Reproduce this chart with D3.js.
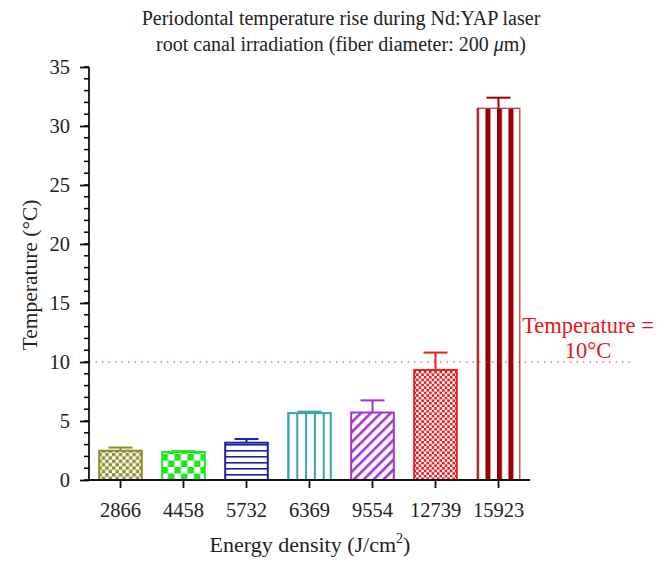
<html>
<script src="https://d3js.org/d3.v7.min.js"></script>
<body style="margin:0;background:#fff">
<script>
var width = 668, height = 570
var font = 'Liberation Serif, Times New Roman, serif'

// data
var energy = ['2866', '4458', '5732', '6369', '9554', '12739', '15923']
var temp = [2.48, 2.37, 3.16, 5.67, 5.72, 9.32, 31.5]
var errTop = [2.75, 2.45, 3.47, 5.79, 6.75, 10.8, 32.4]
var colors = ['#8c8c2a', '#1ee61e', '#1f1fa6', '#3aa3b3', '#a333d1', '#ee1c1c', '#990000']
var patterns = ['checkSmall', 'checkBig', 'hlines', 'vlines', 'diag', 'checkTiny', 'stripes']
var yTicks = [0, 5, 10, 15, 20, 25, 30, 35]
var threshold = 10

var svg = d3.select('body').append('svg').attr('width', width).attr('height', height)
    .style('font-family', font)

var x = d3.scaleBand().domain(energy).range([89, 530]).paddingInner(0.3).paddingOuter(0.15)
var y = d3.scaleLinear().domain([0, 35]).range([480, 67])

var defs = svg.append('defs')

// one pattern per bar, anchored to the bar's left edge
energy.forEach(function(e, i) {
    var c = colors[i], bx = x(e), bw = x.bandwidth(), kind = patterns[i]
    var p = defs.append('pattern').attr('id', 'pat' + i).attr('patternUnits', 'userSpaceOnUse')
    if (kind.indexOf('check') == 0) {
        var s = kind == 'checkBig' ? 6.5 : (kind == 'checkSmall' ? 3.4 : 2.6)
        p.attr('x', bx).attr('y', y(0)).attr('width', s * 2).attr('height', s * 2)
        p.append('rect').attr('width', s * 2).attr('height', s * 2).attr('fill', '#fff')
        p.append('rect').attr('width', s).attr('height', s).attr('fill', c)
        p.append('rect').attr('x', s).attr('y', s).attr('width', s).attr('height', s).attr('fill', c)
    } else if (kind == 'hlines') {
        p.attr('x', bx).attr('y', y(0)).attr('width', 10).attr('height', 6)
        p.append('rect').attr('width', 10).attr('height', 6).attr('fill', '#fff')
        p.append('rect').attr('y', 0).attr('width', 10).attr('height', 1.6).attr('fill', c)
    } else if (kind == 'vlines') {
        var w = bw / 5
        p.attr('x', bx).attr('y', 0).attr('width', w).attr('height', 10)
        p.append('rect').attr('width', w).attr('height', 10).attr('fill', '#fff')
        p.append('rect').attr('x', 0).attr('width', 2).attr('height', 10).attr('fill', c)
    } else if (kind == 'diag') {
        p.attr('width', 7).attr('height', 7).attr('patternTransform', 'rotate(45)')
        p.append('rect').attr('width', 7).attr('height', 7).attr('fill', '#fff')
        p.append('rect').attr('width', 2.6).attr('height', 7).attr('fill', c)
    } else if (kind == 'stripes') {
        var w2 = 11.5
        p.attr('x', bx + 9).attr('y', 0).attr('width', w2).attr('height', 10)
        p.append('rect').attr('width', w2).attr('height', 10).attr('fill', '#fff')
        p.append('rect').attr('x', 0).attr('width', 5).attr('height', 10).attr('fill', c)
    }
})

// bars
svg.selectAll('.bar').data(temp).enter().append('rect').attr('class', 'bar')
    .attr('x', function(d, i) { return x(energy[i]) + 0.75 })
    .attr('width', x.bandwidth() - 1.5)
    .attr('y', function(d) { return y(d) })
    .attr('height', function(d) { return y(0) - y(d) })
    .attr('fill', function(d, i) { return 'url(#pat' + i + ')' })
    .attr('stroke', function(d, i) { return i == 6 ? '#b83030' : colors[i] })
    .attr('stroke-width', function(d, i) { return i == 6 ? 1.2 : 2 })

// error bars
var eb = svg.selectAll('.err').data(errTop).enter().append('g').attr('class', 'err')
    .attr('stroke', function(d, i) { return colors[i] }).attr('stroke-width', 2)
eb.append('line')
    .attr('x1', function(d, i) { return x(energy[i]) + x.bandwidth() / 2 })
    .attr('x2', function(d, i) { return x(energy[i]) + x.bandwidth() / 2 })
    .attr('y1', function(d, i) { return y(temp[i]) })
    .attr('y2', function(d) { return y(d) })
eb.append('line')
    .attr('x1', function(d, i) { return x(energy[i]) + x.bandwidth() / 2 - 12 })
    .attr('x2', function(d, i) { return x(energy[i]) + x.bandwidth() / 2 + 12 })
    .attr('y1', function(d) { return y(d) })
    .attr('y2', function(d) { return y(d) })

// threshold line
svg.append('line').attr('x1', 89).attr('x2', 630).attr('y1', y(threshold)).attr('y2', y(threshold))
    .attr('stroke', '#e83030').attr('stroke-width', 1.2).attr('stroke-dasharray', '1.5,5')
var note = svg.append('text').attr('fill', '#e8151f').attr('font-size', 22.5).attr('text-anchor', 'middle')
note.append('tspan').attr('x', 588).attr('y', 333).text('Temperature =')
note.append('tspan').attr('x', 588).attr('y', 358).text('10\u00b0C')

// y axis
var yAxis = svg.append('g').attr('transform', 'translate(89,0)')
    .call(d3.axisLeft(y).tickValues(yTicks).tickSize(9).tickPadding(10))
yAxis.append('g').selectAll('line').data(d3.range(0, 36)).enter().append('line')
    .attr('x1', -5).attr('x2', 0).attr('y1', function(d) { return y(d) }).attr('y2', function(d) { return y(d) })
    .attr('stroke', '#000').attr('stroke-width', 1.5)
yAxis.select('.domain').attr('d', 'M0,' + y(35) + 'V' + y(0))

// x axis
var xAxis = svg.append('g').attr('transform', 'translate(0,480)')
    .call(d3.axisBottom(x).tickSize(8).tickPadding(14))
xAxis.select('.domain').attr('d', 'M89,0H530')

svg.selectAll('.tick text').attr('font-size', 20.5).attr('font-family', font).attr('fill', '#222')
svg.selectAll('.domain, .tick line').attr('stroke', '#111').attr('stroke-width', 1.8)

// titles
var title = svg.append('text').attr('text-anchor', 'middle').attr('font-size', 20).attr('fill', '#222')
title.append('tspan').attr('x', 341).attr('y', 25).text('Periodontal temperature rise during Nd:YAP laser')
title.append('tspan').attr('x', 341).attr('y', 51).text('root canal irradiation (fiber diameter: 200 ')
title.append('tspan').attr('font-style', 'italic').text('\u03bc')
title.append('tspan').text('m)')

svg.append('text').attr('transform', 'translate(37,275) rotate(-90)').attr('text-anchor', 'middle')
    .attr('font-size', 21.5).attr('fill', '#222').text('Temperature (\u00b0C)')

var xl = svg.append('text').attr('x', 310).attr('y', 552).attr('text-anchor', 'middle')
    .attr('font-size', 22).attr('fill', '#222')
xl.append('tspan').text('Energy density (J/cm')
xl.append('tspan').attr('font-size', 14).attr('dy', -9).text('2')
xl.append('tspan').attr('dy', 9).text(')')
</script>
</body>
</html>
